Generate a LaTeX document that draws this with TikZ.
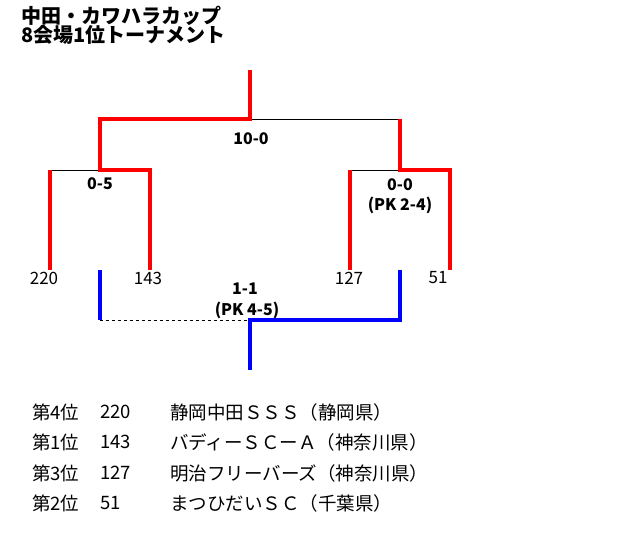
\documentclass[tikz,border=0pt]{standalone}
\usepackage{fontspec}
\setmainfont{Noto Sans CJK JP}
\usepackage{tikz}

\begin{document}
\begin{tikzpicture}[x=1pt,y=-1pt,
	winline/.style={line width=4pt,red},
	blueline/.style={line width=4pt,blue},
	loseline/.style={thin,black},
	score/.style={font=\fontsize{16}{18}\selectfont\bfseries,inner sep=0pt},
	seed/.style={font=\fontsize{17}{19}\selectfont,inner sep=0pt},
	row/.style={font=\fontsize{18.5}{20}\selectfont,anchor=west,inner sep=0pt}]
		\useasboundingbox (0,0) rectangle (640,550);
		\node[anchor=west,inner sep=0pt,font=\fontsize{20}{22}\selectfont\bfseries] (title) at (21,16) {中田・カワハラカップ};
		\node[anchor=west,inner sep=0pt,font=\fontsize{20}{22}\selectfont\bfseries] (subtitle) at (21,35) {8会場1位トーナメント};
		% bracket corners
		\coordinate (top) at (250,70);
		\coordinate (fl) at (100,119);
		\coordinate (fm) at (250,119);
		\coordinate (fr) at (400,119);
		\coordinate (sl) at (50,170);
		\coordinate (slm) at (100,170);
		\coordinate (slr) at (150,170);
		\coordinate (sr) at (350,170);
		\coordinate (srm) at (400,170);
		\coordinate (srr) at (450,170);
		\coordinate (t220) at (50,270);
		\coordinate (t143) at (150,270);
		\coordinate (t127) at (350,270);
		\coordinate (t51) at (450,270);
		\coordinate (bl) at (100,270);
		\coordinate (bld) at (100,320);
		\coordinate (bm) at (250,320);
		\coordinate (br) at (400,270);
		\coordinate (brd) at (400,320);
		\coordinate (bbot) at (250,370);
		\draw[loseline] (sl)--(slm);
		\draw[loseline] (fm)--(fr);
		\draw[loseline] (sr)--(srm);
		\draw[winline] (top)--(fm)--(fl)--(slm)--(slr)--(t143);
		\draw[winline] (sl)--(t220);
		\draw[winline] (fr)--(srm)--(srr)--(t51);
		\draw[winline] (sr)--(t127);
		\draw[blueline] (bl)--(bld);
		\draw[thin,dashed] (bld)--(bm);
		\draw[blueline] (br)--(brd)--(bm)--(bbot);
		\node[score] (s100) at (251,139) {10-0};
		\node[score] (s05) at (100,184) {0-5};
		\node[score] (s00) at (400,185) {0-0};
		\node[score] (pk24) at (400,205) {(PK 2-4)};
		\node[score] (s11) at (245,289) {1-1};
		\node[score] (pk45) at (247,310) {(PK 4-5)};
		\foreach \x/\n in {44/220, 148/143, 349/127, 438/51}{
			\node[seed] (n\n) at (\x,278) {\n};
		}
		\foreach \y/\rk/\sd/\nm in {412/第4位/220/静岡中田ＳＳＳ（静岡県）, 442/第1位/143/バディーＳＣーＡ（神奈川県）, 473/第3位/127/明治フリーバーズ（神奈川県）, 503/第2位/51/まつひだいＳＣ（千葉県）}{
			\node[row] (rk\sd) at (32,\y) {\rk};
			\node[row] (sd\sd) at (100,\y) {\sd};
			\node[row] (nm\sd) at (170,\y) {\nm};
		}
	\end{tikzpicture}
\end{document}
